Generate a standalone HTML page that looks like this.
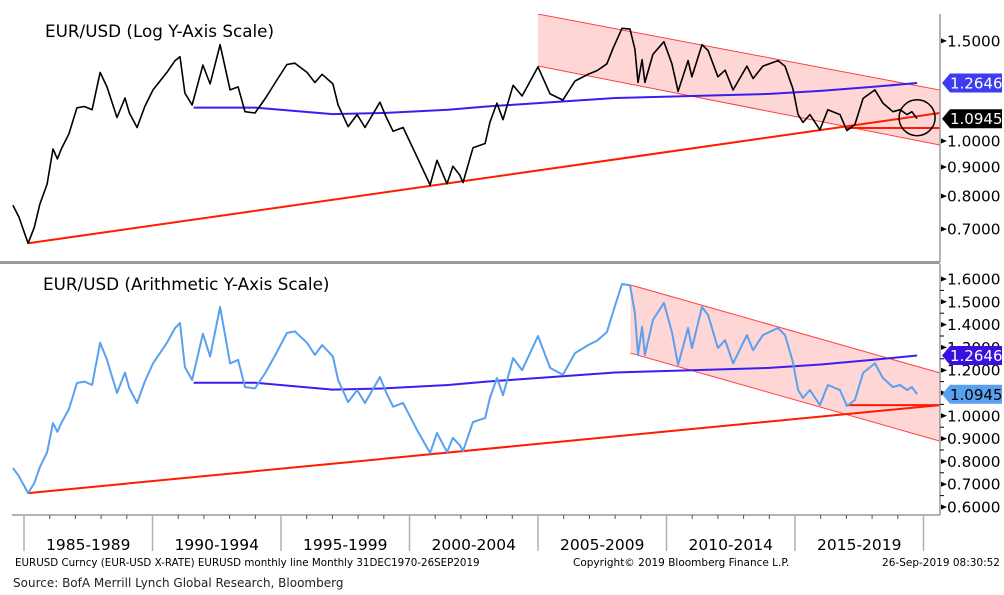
<!DOCTYPE html>
<html><head><meta charset="utf-8">
<style>
html,body{margin:0;padding:0;background:#fff;}
svg{display:block;}
text{font-family:"DejaVu Sans","Liberation Sans",sans-serif;}
</style></head>
<body>
<svg id="chart" width="1004" height="595" viewBox="0 0 1004 595" xmlns="http://www.w3.org/2000/svg"></svg>
<script>
// ---- data ----
const years = [1984.57,1984.80,1985.16,1985.40,1985.62,1985.90,1986.13,1986.30,1986.45,1986.75,1987.06,1987.35,1987.65,1987.96,1988.23,1988.62,1988.93,1989.10,1989.40,1989.70,1990.02,1990.56,1990.88,1991.07,1991.26,1991.54,1991.96,1992.24,1992.63,1993.02,1993.33,1993.60,1993.99,1994.40,1994.84,1995.23,1995.54,1996.01,1996.32,1996.60,1997.02,1997.22,1997.61,1997.96,1998.27,1998.85,1999.10,1999.36,1999.75,2000.29,2000.80,2001.07,2001.46,2001.69,2001.96,2002.08,2002.47,2002.94,2003.13,2003.40,2003.64,2004.03,2004.38,2005.00,2005.47,2005.97,2006.44,2006.95,2007.30,2007.68,2007.92,2008.27,2008.58,2008.77,2008.89,2009.05,2009.16,2009.47,2009.90,2010.21,2010.45,2010.84,2010.99,2011.38,2011.62,2012.00,2012.28,2012.59,2013.13,2013.37,2013.75,2014.34,2014.61,2014.92,2015.12,2015.31,2015.58,2015.97,2016.28,2016.75,2017.02,2017.33,2017.65,2018.11,2018.42,2018.81,2019.09,2019.36,2019.55,2019.75];
const values = [0.771,0.735,0.661,0.705,0.775,0.840,0.968,0.930,0.968,1.030,1.144,1.150,1.135,1.320,1.245,1.100,1.190,1.120,1.056,1.150,1.230,1.320,1.385,1.407,1.214,1.157,1.360,1.260,1.477,1.230,1.245,1.126,1.120,1.190,1.280,1.363,1.370,1.320,1.267,1.310,1.260,1.157,1.060,1.113,1.056,1.170,1.100,1.040,1.056,0.938,0.837,0.925,0.841,0.903,0.870,0.845,0.973,0.990,1.078,1.166,1.090,1.253,1.200,1.350,1.210,1.180,1.275,1.310,1.330,1.367,1.455,1.578,1.573,1.450,1.267,1.390,1.267,1.420,1.495,1.367,1.223,1.385,1.297,1.477,1.442,1.297,1.332,1.230,1.354,1.288,1.354,1.385,1.354,1.236,1.113,1.078,1.113,1.047,1.135,1.113,1.043,1.069,1.188,1.230,1.166,1.126,1.135,1.113,1.126,1.0945];
const maYears = [1991.6,1994.0,1997.0,1999.0,2001.5,2003.0,2005.0,2008.0,2011.0,2014.0,2016.0,2018.0,2019.75];
const maValues = [1.145,1.145,1.115,1.120,1.135,1.150,1.166,1.190,1.200,1.210,1.225,1.245,1.2646];
const logTrendYears = [1985.16,2020.64];
const logTrendValues = [0.661,1.120];
const linTrendYears = [1985.16,2020.64];
const linTrendValues = [0.661,1.047];
const supportYears = [2017.0,2020.64];
const logSupportValues = [1.054,1.054];
const linSupportValues = [1.047,1.047];
const channelYears = [2005.0,2020.64];
const logChanUpper = [1.672,1.229];
const logChanLower = [1.355,0.984];
const linChanYears = [2008.6,2020.64];
const linChanUpper = [1.574,1.188];
const linChanLower = [1.275,0.889];
const logTicks = [1.5,1.0,0.9,0.8,0.7];
const linTicks = [1.6,1.5,1.4,1.3,1.2,1.1,1.0,0.9,0.8,0.7,0.6];
const periodLabels = ["1985-1989","1990-1994","1995-1999","2000-2004","2005-2009","2010-2014","2015-2019"];
const periodStarts = [1985,1990,1995,2000,2005,2010,2015,2020];
const lastValue = 1.0945, maLast = 1.2646;

// ---- axes ----
const X0=24, PXY=25.7, AXIS_X=940;
const x = yr => X0 + (yr-1985)*PXY;
const yLog = v => 141 - 247*Math.log(v);
const yLin = v => 507 - 228*(v-0.6);

const svg=document.getElementById('chart');
const NS='http://www.w3.org/2000/svg';
function mk(tag,attrs,parent){const e=document.createElementNS(NS,tag);for(const k in attrs)e.setAttribute(k,attrs[k]);(parent||svg).appendChild(e);return e;}
function pts(xs,vs,yf){return xs.map((t,i)=>x(t).toFixed(1)+','+yf(vs[i]).toFixed(1)).join(' ');}

const defs=mk('defs',{});
const c1=mk('clipPath',{id:'clipTop'},defs);mk('rect',{x:0,y:14,width:AXIS_X,height:247},c1);
const c2=mk('clipPath',{id:'clipBot'},defs);mk('rect',{x:0,y:265,width:AXIS_X,height:249},c2);

function panel(yf,clip,chanYears,up,lo,trendY,trendV,supV,lineColor,lineW,name){
  const g=mk('g',{'clip-path':'url(#'+clip+')'});
  
  
  const poly=mk('polygon',{points:[x(chanYears[0])+','+yf(up[0]),x(chanYears[1])+','+yf(up[1]),x(chanYears[1])+','+yf(lo[1]),x(chanYears[0])+','+yf(lo[0])].join(' '),fill:'#ffd6d6',stroke:'none'},g);
  
  
  const u=mk('line',{x1:x(chanYears[0]),y1:yf(up[0]),x2:x(chanYears[1]),y2:yf(up[1]),stroke:'#ff4040','stroke-width':1},g);
  
  
  const l=mk('line',{x1:x(chanYears[0]),y1:yf(lo[0]),x2:x(chanYears[1]),y2:yf(lo[1]),stroke:'#ff4040','stroke-width':1},g);
  
  
  const tr=mk('polyline',{points:pts(trendY,trendV,yf),fill:'none',stroke:'#ff1a00','stroke-width':2},g);
  
  
  const sp=mk('polyline',{points:pts(supportYears,supV,yf),fill:'none',stroke:'#ff1a00','stroke-width':2},g);
  
  
  const ma=mk('polyline',{points:pts(maYears,maValues,yf),fill:'none',stroke:'#3a1ef0','stroke-width':2},g);
  
  
  const pl=mk('polyline',{points:pts(years,values,yf),fill:'none',stroke:lineColor,'stroke-width':lineW,'stroke-linejoin':'round'},g);
  
  
}
panel(yLog,'clipTop',channelYears,logChanUpper,logChanLower,logTrendYears,logTrendValues,logSupportValues,'#000',1.6,'log');
panel(yLin,'clipBot',linChanYears,linChanUpper,linChanLower,linTrendYears,linTrendValues,linSupportValues,'#5aa0f0',2,'linear');

const circ=mk('circle',{cx:x(years[years.length-1]),cy:yLog(lastValue)-1,r:18,fill:'none',stroke:'#000','stroke-width':1.5});



const sep=mk('line',{x1:0,y1:262.5,x2:AXIS_X,y2:262.5,stroke:'#9a9a9a','stroke-width':3});


const ax1=mk('line',{x1:AXIS_X,y1:14,x2:AXIS_X,y2:262,stroke:'#9a9a9a','stroke-width':1.5});


const ax2=mk('line',{x1:AXIS_X,y1:264,x2:AXIS_X,y2:515,stroke:'#9a9a9a','stroke-width':1.5});


const xa=mk('line',{x1:12,y1:515,x2:AXIS_X,y2:515,stroke:'#9a9a9a','stroke-width':1.5});



function yTicks(ticks,yf,name){
  ticks.forEach(v=>{
    const yy=yf(v);
    mk('polygon',{points:(AXIS_X+1)+','+(yy-2.5)+' '+(AXIS_X+7)+','+yy+' '+(AXIS_X+1)+','+(yy+2.5),fill:'#000'});
    const t=mk('text',{x:947,y:yy+5.5,'font-size':15.3,fill:'#000'});
    t.textContent=v.toFixed(4);
    
    
  });
}
yTicks(logTicks,yLog,'log-y');
yTicks(linTicks,yLin,'linear-y');
for(let v=0.65;v<1.6;v+=0.1){mk('line',{x1:AXIS_X,y1:yLin(v),x2:AXIS_X+4,y2:yLin(v),stroke:'#000','stroke-width':1});}

function tag(v,yf,bg,fg,name){
  const yy=yf(v);
  const p=mk('polygon',{points:`${AXIS_X+2},${yy} ${AXIS_X+10},${yy-9.5} 1002,${yy-9.5} 1002,${yy+9.5} ${AXIS_X+10},${yy+9.5}`,fill:bg});
  
  
  const t=mk('text',{x:950,y:yy+5.5,'font-size':15,fill:fg});
  t.textContent=v.toFixed(4);
  
  
}
tag(maLast,yLog,'#3c3cf0','#fff','log-ma');
tag(lastValue,yLog,'#000','#fff','log-last');
tag(maLast,yLin,'#3a10e0','#fff','linear-ma');
tag(lastValue,yLin,'#5aa0f0','#000','linear-last');

for(let yr=1985;yr<=2020;yr++){mk('line',{x1:x(yr),y1:515,x2:x(yr),y2:519,stroke:'#555','stroke-width':1});}
periodStarts.forEach(yr=>{
  const l=mk('line',{x1:x(yr),y1:515,x2:x(yr),y2:551,stroke:'#b0b0b0','stroke-width':1.5});
  
  
});
periodLabels.forEach((s,i)=>{
  const t=mk('text',{x:(x(periodStarts[i])+x(periodStarts[i+1]))/2,y:550,'font-size':15.5,'text-anchor':'middle',fill:'#000'});
  t.textContent=s;
  
  
});

let t=mk('text',{x:45,y:37,'font-size':16.8,fill:'#000'});t.textContent='EUR/USD (Log Y-Axis Scale)';


t=mk('text',{x:43,y:290,'font-size':16.8,fill:'#000'});t.textContent='EUR/USD (Arithmetic Y-Axis Scale)';



t=mk('text',{x:15,y:566,'font-size':10.3,fill:'#000'});t.textContent='EURUSD Curncy (EUR-USD X-RATE) EURUSD monthly line  Monthly 31DEC1970-26SEP2019';


t=mk('text',{x:573,y:566,'font-size':10.5,fill:'#000'});t.textContent='Copyright\u00a9 2019 Bloomberg Finance L.P.';


t=mk('text',{x:1000,y:566,'font-size':10.5,fill:'#000','text-anchor':'end'});t.textContent='26-Sep-2019 08:30:52';


t=mk('text',{x:13,y:587,'font-size':12,fill:'#222','font-family':'Liberation Sans, sans-serif'});t.textContent='Source: BofA Merrill Lynch Global Research, Bloomberg';


</script>
</body></html>
